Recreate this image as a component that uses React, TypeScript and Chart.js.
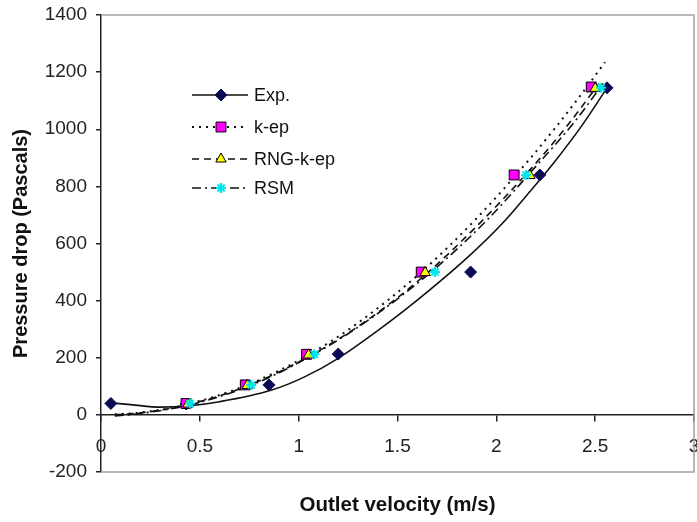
import React, { useEffect, useRef } from 'react';
import { Chart, registerables } from 'chart.js';

Chart.register(...registerables);

// ---- data ----
const seriesNames = ['Exp.', 'k-ep', 'RNG-k-ep', 'RSM'];

const expX = [0.05, 0.43, 0.85, 1.2, 1.87, 2.22, 2.56];
const expY = [40, 38, 105, 213, 500, 840, 1145];
const kepX = [0.43, 0.73, 1.04, 1.62, 2.09, 2.48];
const kepY = [40, 105, 212, 500, 840, 1148];
const rngX = [0.44, 0.74, 1.05, 1.64, 2.17, 2.5];
const rngY = [38, 103, 210, 498, 838, 1143];
const rsmX = [0.45, 0.76, 1.08, 1.69, 2.15, 2.53];
const rsmY = [40, 105, 212, 500, 840, 1145];

// trend lines
const expTrendX = [0.05, 0.15, 0.3, 0.45, 0.6, 0.86, 1.03, 1.2, 1.4, 1.57, 1.86, 2.03, 2.17, 2.29, 2.43, 2.56];
const expTrendY = [42, 36, 27, 32, 46, 86, 133, 198, 295, 385, 555, 670, 782, 882, 1010, 1145];
const kepTrendX = [0.07, 0.2, 0.43, 0.73, 1.04, 1.3, 1.62, 1.9, 2.18, 2.4, 2.55];
const kepTrendY = [2, 8, 36, 102, 206, 322, 500, 688, 905, 1095, 1235];
const rngTrendX = [0.07, 0.2, 0.44, 0.74, 1.05, 1.35, 1.64, 1.9, 2.16, 2.35, 2.52];
const rngTrendY = [0, 7, 36, 101, 204, 333, 490, 660, 850, 1005, 1160];
const rsmTrendX = [0.07, 0.2, 0.45, 0.76, 1.08, 1.38, 1.69, 1.95, 2.2, 2.4, 2.54];
const rsmTrendY = [-4, 5, 35, 104, 213, 345, 512, 680, 870, 1030, 1160];

const xTitle = 'Outlet velocity (m/s)';
const yTitle = 'Pressure drop (Pascals)';

const FONT = '"Liberation Sans", Arial, Helvetica, sans-serif';

const zip = (xs: number[], ys: number[]) => xs.map((x, i) => ({ x, y: ys[i] }));

const styles = [
  { pointStyle: 'rectRot', fill: '#0b0b55', stroke: '#0b0b55', radius: 6, pbw: 1, dash: [] as number[] },
  { pointStyle: 'rect', fill: '#ff00ff', stroke: '#000000', radius: 7, pbw: 1, dash: [2, 5] },
  { pointStyle: 'triangle', fill: '#ffff00', stroke: '#000000', radius: 6, pbw: 1, dash: [7, 5] },
  { pointStyle: 'star', fill: '#00e5ee', stroke: '#00e5ee', radius: 5, pbw: 2, dash: [9, 4, 2, 4] },
];

function drawMarker(ctx: CanvasRenderingContext2D, i: number, x: number, y: number) {
  const s = styles[i];
  ctx.save();
  ctx.fillStyle = s.fill;
  ctx.strokeStyle = s.stroke;
  ctx.lineWidth = s.pbw;
  ctx.setLineDash([]);
  const r = s.radius;
  ctx.beginPath();
  if (s.pointStyle === 'rectRot') {
    ctx.moveTo(x, y - r); ctx.lineTo(x + r, y); ctx.lineTo(x, y + r); ctx.lineTo(x - r, y); ctx.closePath();
    ctx.fill(); ctx.stroke();
  } else if (s.pointStyle === 'rect') {
    const h = r * Math.SQRT1_2;
    ctx.rect(x - h, y - h, 2 * h, 2 * h); ctx.fill(); ctx.stroke();
  } else if (s.pointStyle === 'triangle') {
    ctx.moveTo(x, y - r); ctx.lineTo(x + r * 0.866, y + r * 0.5); ctx.lineTo(x - r * 0.866, y + r * 0.5); ctx.closePath();
    ctx.fill(); ctx.stroke();
  } else {
    for (let k = 0; k < 4; k++) {
      const a = (k * Math.PI) / 4;
      ctx.moveTo(x - Math.cos(a) * r, y - Math.sin(a) * r);
      ctx.lineTo(x + Math.cos(a) * r, y + Math.sin(a) * r);
    }
    ctx.stroke();
  }
  ctx.restore();
}

const decorPlugin = {
  id: 'decor',
  beforeDatasetsDraw(chart: any) {
    const { ctx, chartArea: a } = chart;
    ctx.save();
    ctx.strokeStyle = '#a0a0a0';
    ctx.lineWidth = 1.5;
    ctx.beginPath();
    ctx.moveTo(a.left, a.top);
    ctx.lineTo(a.right, a.top);
    ctx.lineTo(a.right, a.bottom);
    ctx.lineTo(a.left, a.bottom);
    ctx.stroke();
    ctx.restore();
  },
  afterDatasetsDraw(chart: any) {
    const { ctx, chartArea: a } = chart;
    ctx.save();
    // legend
    const rows = [95, 127, 159, 188];
    const x0 = 192, x1 = 248, xm = 221, xt = 254;
    ctx.font = `18px ${FONT}`;
    ctx.textBaseline = 'middle';
    ctx.textAlign = 'left';
    seriesNames.forEach((name, i) => {
      const y = rows[i];
      ctx.save();
      ctx.strokeStyle = '#111';
      ctx.lineWidth = i === 1 ? 2 : 1.6;
      ctx.setLineDash(styles[i].dash);
      ctx.beginPath();
      ctx.moveTo(x0, y);
      ctx.lineTo(x1, y);
      ctx.stroke();
      ctx.restore();
      drawMarker(ctx, i, xm, y);
      ctx.fillStyle = '#111';
      ctx.fillText(name, xt, y + 1);
    });
    // axis titles
    ctx.font = `bold 20.5px ${FONT}`;
    ctx.fillStyle = '#111';
    ctx.textAlign = 'center';
    ctx.textBaseline = 'middle';
    ctx.fillText(xTitle, (a.left + a.right) / 2, 505);
    ctx.translate(21, (a.top + a.bottom) / 2);
    ctx.rotate(-Math.PI / 2);
    ctx.font = `bold 20px ${FONT}`;
    ctx.fillText(yTitle, 0, 0);
    ctx.restore();
  },
};

const noPad = (s: any) => {
  s.paddingLeft = 0;
  s.paddingRight = 0;
  s.paddingTop = 0;
  s.paddingBottom = 0;
};

export default function App() {
  const ref = useRef<HTMLCanvasElement | null>(null);

  useEffect(() => {
    document.body.style.margin = '0';
    Chart.defaults.font.family = FONT;
    const canvas = ref.current!;
    const trend = [
      [expTrendX, expTrendY],
      [kepTrendX, kepTrendY],
      [rngTrendX, rngTrendY],
      [rsmTrendX, rsmTrendY],
    ];
    const pts = [
      [expX, expY],
      [kepX, kepY],
      [rngX, rngY],
      [rsmX, rsmY],
    ];
    const datasets: any[] = [];
    trend.forEach((t, i) => {
      datasets.push({
        label: seriesNames[i] + ' trend',
        data: zip(t[0], t[1]),
        showLine: true,
        borderColor: '#111',
        borderWidth: i === 1 ? 2 : 1.6,
        borderDash: styles[i].dash,
        pointRadius: 0,
        tension: 0.35,
        cubicInterpolationMode: 'monotone',
        order: 2,
      });
    });
    pts.forEach((p, i) => {
      const s = styles[i];
      datasets.push({
        label: seriesNames[i],
        data: zip(p[0], p[1]),
        showLine: false,
        pointStyle: s.pointStyle,
        pointRadius: s.radius,
        pointBackgroundColor: s.fill,
        pointBorderColor: s.stroke,
        pointBorderWidth: s.pbw,
        order: 1 - i * 0.1,
      });
    });

    const chart = new Chart(canvas, {
      type: 'scatter',
      data: { datasets },
      options: {
        animation: false,
        responsive: false,
        devicePixelRatio: 1,
        layout: { autoPadding: false, padding: { top: 15, right: 3, bottom: 50, left: 0 } },
        plugins: { legend: { display: false }, tooltip: { enabled: false }, title: { display: false } },
        scales: {
          x: {
            type: 'linear',
            position: { y: 0 } as any,
            min: 0,
            max: 3,
            ticks: {
              stepSize: 0.5,
              autoSkip: false,
              maxRotation: 0,
              padding: 14,
              color: '#222',
              font: { size: 19 },
              callback: (v: any) => String(v),
            },
            grid: { drawOnChartArea: false, drawTicks: true, tickLength: 6, color: '#222', lineWidth: 1.5 },
            border: { display: true, color: '#222', width: 1.5 },
            afterFit: noPad,
          },
          y: {
            type: 'linear',
            position: 'left',
            min: -200,
            max: 1400,
            ticks: {
              stepSize: 200,
              padding: 9,
              color: '#222',
              font: { size: 19 },
              callback: (v: any) => String(v),
            },
            grid: { drawOnChartArea: false, drawTicks: true, tickLength: 5, color: '#222', lineWidth: 1.5 },
            border: { display: true, color: '#222', width: 1.5 },
            afterFit: (s: any) => {
              noPad(s);
              s.width = 101;
            },
          },
        },
      },
      plugins: [decorPlugin],
    } as any);
    return () => chart.destroy();
  }, []);

  return (
    <div style={{ width: 697, height: 522 }}>
      <canvas ref={ref} width={697} height={522} style={{ display: 'block' }} />
    </div>
  );
}
